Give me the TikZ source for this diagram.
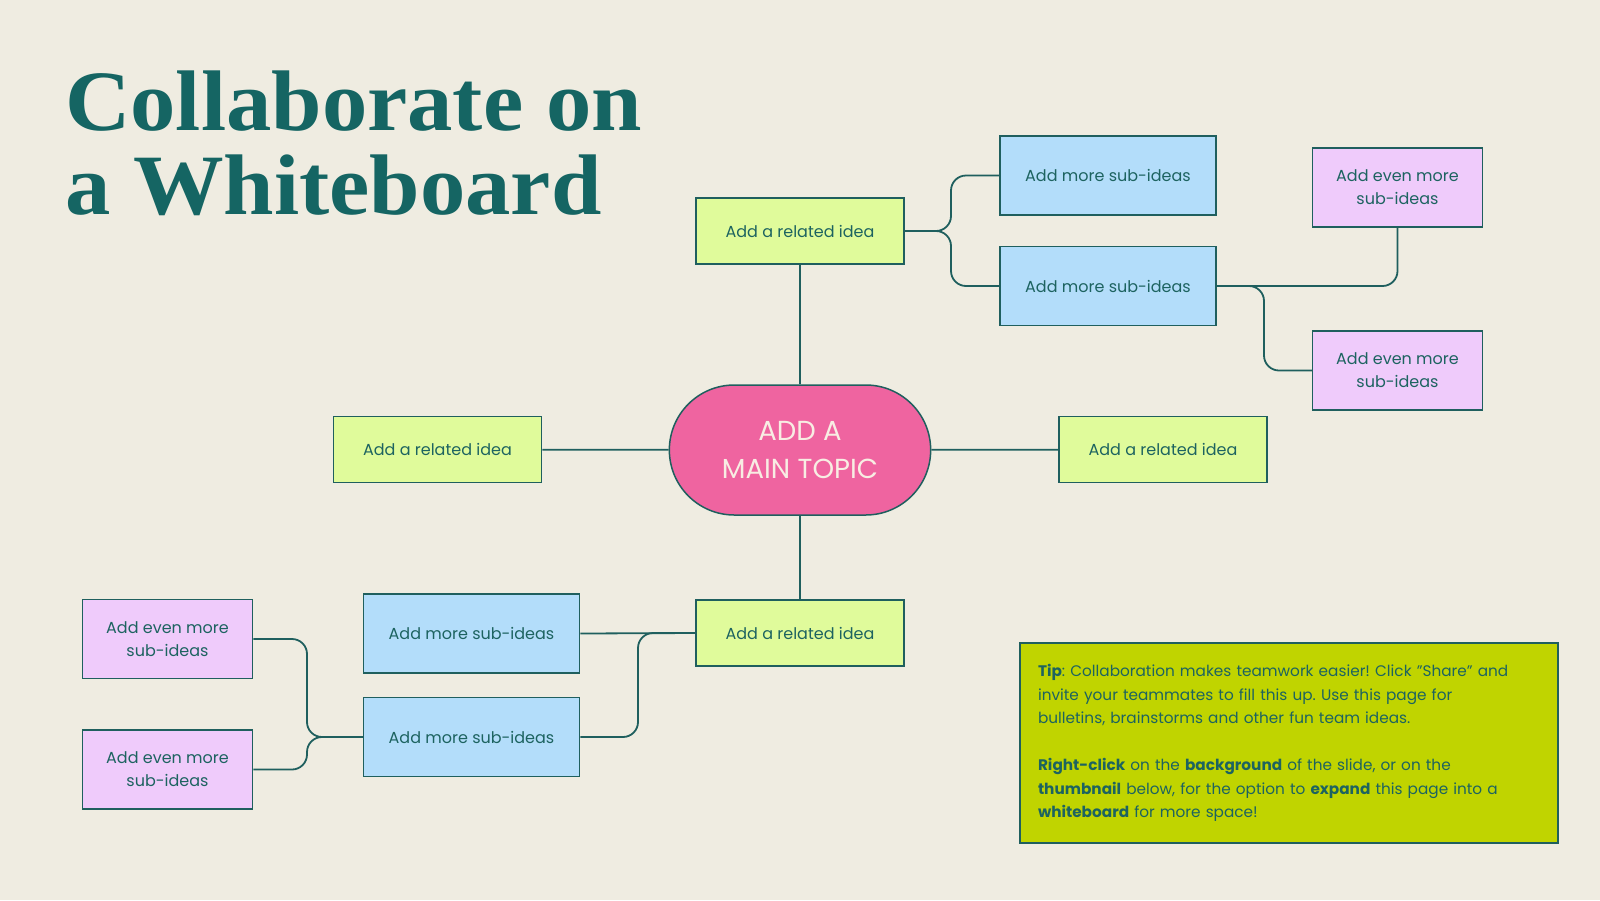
\documentclass[tikz,border=0pt]{standalone}
\usepackage{fontspec}
\setmainfont{Poppins}
\newfontfamily\titlefont{Liberation Serif}
\usetikzlibrary{shapes.misc}
\definecolor{bgc}{HTML}{EFECE1}
\definecolor{linec}{HTML}{1F5F5E}
\definecolor{textc}{HTML}{1D6360}
\definecolor{titlec}{HTML}{156563}
\definecolor{greenc}{HTML}{E0FB9B}
\definecolor{bluec}{HTML}{B3DDFA}
\definecolor{purplec}{HTML}{EFCBFB}
\definecolor{pinkc}{HTML}{EF64A0}
\definecolor{tipc}{HTML}{C0D400}
\definecolor{creamc}{HTML}{F8EDE3}
\frenchspacing
\tikzset{
  box/.style={draw=linec, line width=1.5pt, text=textc, font=\fontsize{16}{23}\selectfont, align=center, inner sep=0pt},
  related/.style={box, fill=greenc, minimum width=208pt, minimum height=66pt},
  sub/.style={box, fill=bluec, minimum width=216pt, minimum height=79pt},
  even/.style={box, fill=purplec, minimum width=170pt, minimum height=79pt},
  link/.style={draw=linec, line width=1.8pt, rounded corners=15pt},
  titletext/.style={anchor=base west, inner sep=0, text=titlec, font=\titlefont\bfseries\fontsize{86}{86}\selectfont},
}
\begin{document}
\begin{tikzpicture}[x=1pt,y=-1pt]
\fill[bgc] (0,0) rectangle (1600,900);
\useasboundingbox (0,0) rectangle (1600,900);

% title
\node[titletext] (t1) at (65,130) {\scalebox{1.054}[1]{Collaborate on}};
\node[titletext] (t2) at (65,214) {\scalebox{1.054}[1]{a Whiteboard}};

% main topic
\node[rounded rectangle, draw=linec, line width=1.5pt, fill=pinkc, minimum width=268pt, minimum height=130pt, text=creamc, align=center, font=\fontsize{27.5}{38}\selectfont] (main) at (800,450) {ADD A\\MAIN TOPIC};

% related ideas
\node[related] (rt) at (800,231) {Add a related idea};
\node[related] (rl) at (437.5,449.5) {Add a related idea};
\node[related] (rr) at (1163,449.5) {Add a related idea};
\node[related] (rb) at (800,633) {Add a related idea};

% sub ideas
\node[sub] (s1) at (1108,175.5) {Add more sub-ideas};
\node[sub] (s2) at (1108,286) {Add more sub-ideas};
\node[sub] (s3) at (471.5,633.5) {Add more sub-ideas};
\node[sub] (s4) at (471.5,737) {Add more sub-ideas};

% even more
\node[even] (e1) at (1397.5,187.5) {Add even more\\sub-ideas};
\node[even] (e2) at (1397.5,370.5) {Add even more\\sub-ideas};
\node[even] (e3) at (167.5,639) {Add even more\\sub-ideas};
\node[even] (e4) at (167.5,769.5) {Add even more\\sub-ideas};

% junction coordinates
\coordinate (j1) at (951,231);
\coordinate (j2) at (1264,286);
\coordinate (j3) at (638,633);
\coordinate (j4) at (307,737);

% connectors
\draw[link] (rt) -- (main);
\draw[link] (main) -- (rb);
\draw[link] (main) -- (rl);
\draw[link] (main) -- (rr);

\draw[link] (rt.east) -- (j1) |- (s1.west);
\draw[link] (rt.east) -- (j1) |- (s2.west);
\draw[link] (s2.east) -| (e1.south);
\draw[link] (s2.east) -- (j2) |- (e2.west);
\draw[link] (rb.west) -- (s3.east);
\draw[link] (rb.west) -- (j3) |- (s4.east);
\draw[link] (s4.west) -- (j4) |- (e3.east);
\draw[link] (s4.west) -- (j4) |- (e4.east);

% tip box
\node[draw=linec, line width=1.5pt, fill=tipc, text=textc, minimum width=538pt, minimum height=200pt, text width=502pt, inner sep=18pt, align=left, font=\fontsize{15.3}{23.5}\selectfont] (tip) at (1289,743) {\textbf{Tip}: Collaboration makes teamwork easier! Click \char"22 Share\char"22{} and\\
invite your teammates to fill this up. Use this page for\\
bulletins, brainstorms and other fun team ideas.\\[23.5pt]
\textbf{Right-click} on the \textbf{background} of the slide, or on the\\
\textbf{thumbnail} below, for the option to \textbf{expand} this page into a\\
\textbf{whiteboard} for more space!};
\end{tikzpicture}
\end{document}
